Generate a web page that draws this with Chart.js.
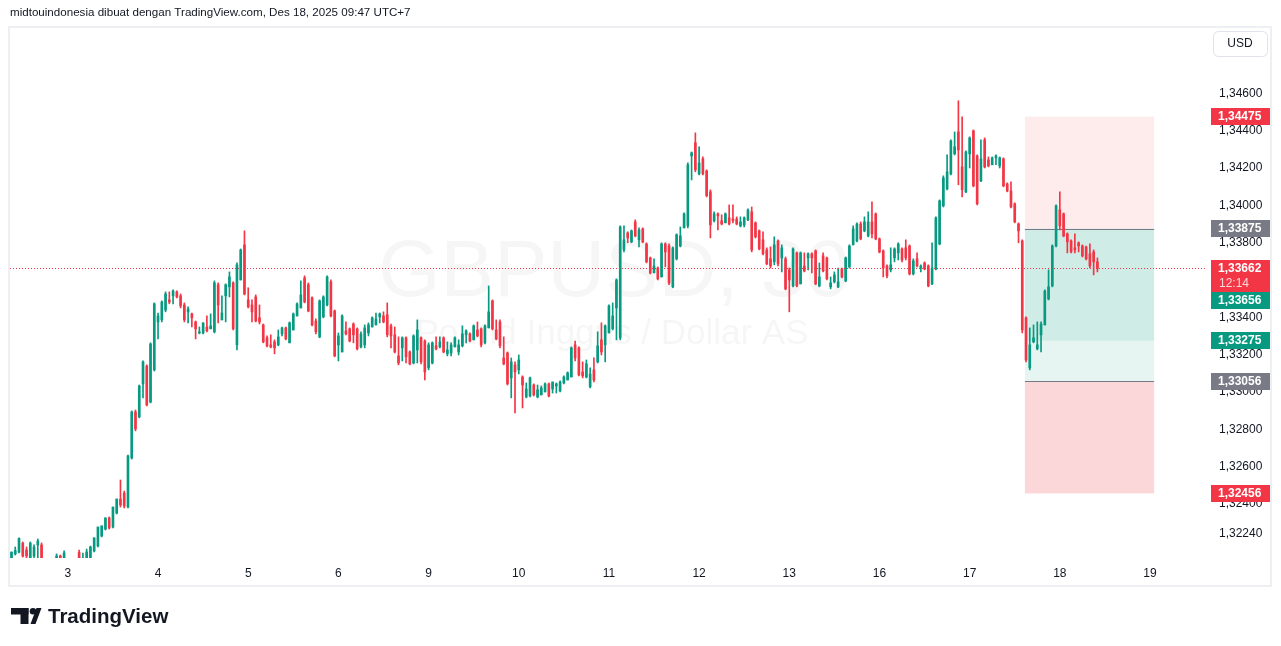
<!DOCTYPE html>
<html>
<head>
<meta charset="utf-8">
<script src="https://cdn.jsdelivr.net/npm/chart.js@4.4.1/dist/chart.umd.min.js"></script>
<style>
  html, body { margin: 0; padding: 0; background: #fff; }
  #wrap { width: 1281px; height: 646px; }
</style>
</head>
<body>
<div id="wrap"><canvas id="myCanvas" width="1281" height="646"></canvas></div>
<script>
// GBPUSD 30m, one candle per hour slot, slot 0 = Dec 3 00:00
const firstSlot = -15;

const open = [
  1.32099,1.32132,1.32142,1.32190,1.32153,1.32110,1.32121,1.32180,1.32180,1.32083,
  1.32046,1.32008,1.32056,1.32121,1.32067,1.32088,1.32035,1.31992,1.32140,1.32072,
  1.32088,1.32099,1.32148,1.32174,1.32228,1.32265,1.32325,1.32276,1.32351,1.32426,
  1.32458,1.32383,1.32646,1.32893,1.32866,1.33043,1.33139,1.32946,1.33118,1.33375,
  1.33386,1.33439,1.33493,1.33515,1.33536,1.33515,1.33466,1.33429,1.33418,1.33375,
  1.33316,1.33316,1.33348,1.33338,1.33322,1.33574,1.33386,1.33515,1.33563,1.33584,
  1.33252,1.33600,1.33788,1.33493,1.33466,1.33509,1.33397,1.33359,1.33290,1.33252,
  1.33268,1.33252,1.33311,1.33343,1.33263,1.33332,1.33407,1.33450,1.33611,1.33574,
  1.33504,1.33380,1.33295,1.33402,1.33466,1.33590,1.33434,1.33252,1.33214,1.33327,
  1.33338,1.33364,1.33338,1.33241,1.33252,1.33316,1.33348,1.33359,1.33402,1.33407,
  1.33413,1.33354,1.33306,1.33193,1.33236,1.33290,1.33214,1.33155,1.33225,1.33290,
  1.33273,1.33129,1.33155,1.33247,1.33241,1.33290,1.33204,1.33209,1.33241,1.33214,
  1.33247,1.33306,1.33311,1.33279,1.33332,1.33338,1.33263,1.33343,1.33488,1.33332,
  1.33375,1.33182,1.33209,1.33075,1.33145,1.33118,1.33080,1.32973,1.32978,1.33037,
  1.32973,1.32984,1.33000,1.33043,1.33016,1.33032,1.33005,1.33048,1.33064,1.33080,
  1.33252,1.33236,1.33107,1.33080,1.33027,1.33118,1.33161,1.33279,1.33252,1.33316,
  1.33338,1.33450,1.33290,1.33761,1.33852,1.33804,1.33911,1.33815,1.33874,1.33793,
  1.33718,1.33638,1.33664,1.33616,1.33793,1.33782,1.33563,1.33713,1.33782,1.33879,
  1.33890,1.34265,1.34335,1.34168,1.34249,1.34184,1.34072,1.33917,1.33954,1.33917,
  1.33906,1.33933,1.33927,1.33927,1.33890,1.33895,1.33922,1.33965,1.33906,1.33863,
  1.33815,1.33761,1.33713,1.33697,1.33809,1.33718,1.33713,1.33654,1.33568,1.33745,
  1.33579,1.33675,1.33718,1.33740,1.33756,1.33568,1.33729,1.33718,1.33563,1.33590,
  1.33563,1.33659,1.33595,1.33670,1.33788,1.33809,1.33900,1.33863,1.33836,1.33911,
  1.33954,1.33820,1.33756,1.33675,1.33654,1.33718,1.33745,1.33766,1.33772,1.33782,
  1.33632,1.33713,1.33664,1.33691,1.33675,1.33579,1.33659,1.33793,1.33997,1.34088,
  1.34168,1.34276,1.34393,1.34206,1.34072,1.34276,1.34399,1.34265,1.34131,1.34351,
  1.34243,1.34217,1.34254,1.34211,1.34249,1.34115,1.34077,1.34008,1.33900,1.33809,
  1.33397,1.33129,1.33268,1.33231,1.33306,1.33359,1.33498,1.33568,1.33782,1.33975,
  1.33954,1.33847,1.33809,1.33772,1.33799,1.33782,1.33777,1.33740,1.33750,1.33697
];
const high = [
  1.32142,1.32169,1.32218,1.32196,1.32169,1.32196,1.32180,1.32212,1.32191,1.32088,
  1.32072,1.32067,1.32132,1.32126,1.32148,1.32094,1.32072,1.32083,1.32153,1.32137,
  1.32158,1.32174,1.32218,1.32276,1.32282,1.32325,1.32330,1.32383,1.32426,1.32528,
  1.32469,1.32662,1.32898,1.32903,1.33037,1.33166,1.33145,1.33263,1.33477,1.33423,
  1.33488,1.33536,1.33536,1.33547,1.33541,1.33525,1.33477,1.33456,1.33423,1.33380,
  1.33348,1.33370,1.33407,1.33418,1.33595,1.33584,1.33515,1.33579,1.33643,1.33590,
  1.33691,1.33766,1.33863,1.33558,1.33493,1.33520,1.33466,1.33364,1.33300,1.33306,
  1.33279,1.33332,1.33348,1.33348,1.33375,1.33423,1.33477,1.33595,1.33622,1.33584,
  1.33509,1.33391,1.33493,1.33515,1.33622,1.33600,1.33439,1.33316,1.33413,1.33375,
  1.33343,1.33370,1.33343,1.33322,1.33359,1.33370,1.33402,1.33423,1.33423,1.33429,
  1.33477,1.33364,1.33348,1.33295,1.33295,1.33295,1.33220,1.33306,1.33386,1.33295,
  1.33279,1.33263,1.33268,1.33295,1.33295,1.33295,1.33268,1.33263,1.33295,1.33279,
  1.33354,1.33332,1.33316,1.33359,1.33375,1.33343,1.33359,1.33568,1.33493,1.33386,
  1.33386,1.33295,1.33214,1.33182,1.33161,1.33198,1.33086,1.33048,1.33080,1.33043,
  1.33037,1.33032,1.33048,1.33048,1.33053,1.33048,1.33059,1.33086,1.33107,1.33241,
  1.33273,1.33241,1.33161,1.33171,1.33129,1.33182,1.33322,1.33370,1.33359,1.33466,
  1.33477,1.33606,1.33890,1.33890,1.33858,1.33868,1.33922,1.33879,1.33879,1.33799,
  1.33723,1.33713,1.33670,1.33799,1.33799,1.33793,1.33777,1.33847,1.33884,1.33959,
  1.34227,1.34286,1.34388,1.34313,1.34259,1.34190,1.34083,1.33965,1.33959,1.33949,
  1.33959,1.34002,1.34002,1.33938,1.33938,1.33938,1.33981,1.33991,1.33911,1.33868,
  1.33858,1.33772,1.33777,1.33831,1.33815,1.33788,1.33723,1.33664,1.33772,1.33750,
  1.33750,1.33745,1.33745,1.33745,1.33761,1.33691,1.33745,1.33723,1.33616,1.33643,
  1.33664,1.33664,1.33723,1.33788,1.33890,1.33906,1.33911,1.33938,1.33965,1.34018,
  1.33959,1.33825,1.33761,1.33681,1.33772,1.33772,1.33799,1.33772,1.33815,1.33788,
  1.33713,1.33745,1.33681,1.33697,1.33681,1.33799,1.33938,1.34029,1.34158,1.34270,
  1.34351,1.34393,1.34560,1.34474,1.34292,1.34367,1.34404,1.34270,1.34351,1.34361,
  1.34259,1.34259,1.34270,1.34259,1.34254,1.34120,1.34126,1.34013,1.33906,1.33815,
  1.33402,1.33343,1.33359,1.33375,1.33375,1.33547,1.33654,1.33788,1.34002,1.34072,
  1.33959,1.33852,1.33815,1.33847,1.33804,1.33788,1.33782,1.33793,1.33761,1.33718
];
const low = [
  1.32088,1.32126,1.32137,1.32115,1.32105,1.32099,1.32099,1.32099,1.32072,1.32019,
  1.31981,1.31992,1.32035,1.32046,1.32046,1.32019,1.31965,1.31981,1.32056,1.32046,
  1.32067,1.32088,1.32142,1.32169,1.32223,1.32260,1.32265,1.32271,1.32346,1.32383,
  1.32378,1.32378,1.32640,1.32791,1.32861,1.32968,1.32925,1.32941,1.33112,1.33284,
  1.33375,1.33429,1.33472,1.33472,1.33504,1.33450,1.33375,1.33370,1.33348,1.33284,
  1.33311,1.33311,1.33322,1.33338,1.33316,1.33370,1.33386,1.33375,1.33509,1.33332,
  1.33225,1.33600,1.33520,1.33450,1.33375,1.33375,1.33364,1.33263,1.33241,1.33236,
  1.33204,1.33247,1.33300,1.33279,1.33263,1.33332,1.33407,1.33450,1.33477,1.33429,
  1.33354,1.33311,1.33290,1.33397,1.33461,1.33402,1.33188,1.33166,1.33214,1.33306,
  1.33268,1.33263,1.33225,1.33236,1.33236,1.33300,1.33348,1.33359,1.33370,1.33370,
  1.33295,1.33236,1.33209,1.33145,1.33166,1.33155,1.33145,1.33150,1.33155,1.33150,
  1.33064,1.33118,1.33150,1.33225,1.33236,1.33209,1.33193,1.33193,1.33241,1.33198,
  1.33241,1.33263,1.33268,1.33279,1.33295,1.33241,1.33257,1.33343,1.33332,1.33279,
  1.33236,1.33145,1.33037,1.32968,1.32887,1.33096,1.32914,1.32968,1.32973,1.32978,
  1.32968,1.32984,1.33000,1.32973,1.32994,1.32994,1.33000,1.33043,1.33064,1.33080,
  1.33166,1.33086,1.33075,1.33075,1.33021,1.33053,1.33155,1.33198,1.33161,1.33316,
  1.33332,1.33279,1.33279,1.33750,1.33799,1.33799,1.33831,1.33777,1.33799,1.33691,
  1.33632,1.33638,1.33600,1.33616,1.33670,1.33574,1.33558,1.33707,1.33777,1.33879,
  1.33879,1.34136,1.34179,1.34163,1.34163,1.34045,1.33825,1.33911,1.33868,1.33895,
  1.33906,1.33895,1.33906,1.33895,1.33884,1.33884,1.33917,1.33750,1.33825,1.33761,
  1.33734,1.33681,1.33664,1.33681,1.33675,1.33643,1.33547,1.33429,1.33563,1.33563,
  1.33579,1.33643,1.33654,1.33638,1.33574,1.33563,1.33643,1.33600,1.33552,1.33584,
  1.33558,1.33611,1.33590,1.33664,1.33788,1.33804,1.33815,1.33858,1.33831,1.33825,
  1.33815,1.33745,1.33616,1.33611,1.33643,1.33697,1.33707,1.33697,1.33707,1.33627,
  1.33627,1.33670,1.33643,1.33654,1.33563,1.33574,1.33654,1.33788,1.33991,1.34083,
  1.34163,1.34270,1.34110,1.34045,1.34067,1.34200,1.34099,1.34002,1.34126,1.34200,
  1.34206,1.34217,1.34217,1.34200,1.34099,1.34072,1.33986,1.33906,1.33799,1.33316,
  1.33161,1.33118,1.33263,1.33225,1.33214,1.33359,1.33493,1.33563,1.33777,1.33868,
  1.33831,1.33745,1.33745,1.33745,1.33750,1.33723,1.33707,1.33664,1.33627,1.33643
];
const close = [
  1.32142,1.32150,1.32215,1.32120,1.32121,1.32190,1.32169,1.32201,1.32088,1.32046,
  1.32003,1.32056,1.32121,1.32067,1.32137,1.32035,1.31992,1.32067,1.32088,1.32110,
  1.32142,1.32169,1.32218,1.32276,1.32282,1.32325,1.32271,1.32383,1.32426,1.32394,
  1.32389,1.32657,1.32893,1.32802,1.33032,1.33161,1.32930,1.33257,1.33472,1.33407,
  1.33482,1.33525,1.33482,1.33541,1.33509,1.33461,1.33386,1.33445,1.33397,1.33338,
  1.33322,1.33370,1.33327,1.33354,1.33584,1.33466,1.33423,1.33574,1.33616,1.33338,
  1.33681,1.33761,1.33525,1.33456,1.33429,1.33380,1.33375,1.33268,1.33247,1.33241,
  1.33236,1.33295,1.33343,1.33284,1.33370,1.33418,1.33472,1.33520,1.33482,1.33434,
  1.33359,1.33322,1.33488,1.33509,1.33616,1.33407,1.33193,1.33300,1.33407,1.33311,
  1.33273,1.33306,1.33231,1.33311,1.33343,1.33359,1.33397,1.33391,1.33418,1.33375,
  1.33306,1.33300,1.33214,1.33155,1.33290,1.33188,1.33150,1.33300,1.33332,1.33161,
  1.33107,1.33252,1.33263,1.33231,1.33268,1.33214,1.33225,1.33252,1.33290,1.33252,
  1.33311,1.33327,1.33273,1.33354,1.33300,1.33252,1.33354,1.33429,1.33338,1.33284,
  1.33247,1.33150,1.33043,1.33161,1.33107,1.33171,1.33037,1.33016,1.33075,1.32984,
  1.33011,1.33021,1.33043,1.32978,1.33053,1.33043,1.33053,1.33080,1.33102,1.33236,
  1.33182,1.33091,1.33086,1.33150,1.33096,1.33064,1.33247,1.33214,1.33354,1.33461,
  1.33407,1.33600,1.33884,1.33815,1.33825,1.33863,1.33836,1.33868,1.33804,1.33697,
  1.33638,1.33675,1.33606,1.33793,1.33750,1.33584,1.33772,1.33842,1.33836,1.33954,
  1.34217,1.34281,1.34190,1.34227,1.34168,1.34051,1.33895,1.33954,1.33943,1.33900,
  1.33954,1.33900,1.33917,1.33900,1.33911,1.33933,1.33975,1.33761,1.33831,1.33766,
  1.33740,1.33686,1.33675,1.33788,1.33686,1.33772,1.33552,1.33600,1.33766,1.33568,
  1.33745,1.33648,1.33740,1.33718,1.33579,1.33616,1.33648,1.33606,1.33584,1.33627,
  1.33590,1.33616,1.33718,1.33782,1.33874,1.33900,1.33820,1.33911,1.33911,1.33847,
  1.33820,1.33750,1.33664,1.33622,1.33681,1.33766,1.33793,1.33707,1.33718,1.33632,
  1.33702,1.33675,1.33675,1.33659,1.33568,1.33664,1.33933,1.34024,1.34147,1.34179,
  1.34345,1.34313,1.34297,1.34083,1.34286,1.34361,1.34104,1.34008,1.34249,1.34206,
  1.34211,1.34254,1.34265,1.34254,1.34104,1.34077,1.33991,1.33911,1.33863,1.33332,
  1.33171,1.33252,1.33290,1.33252,1.33364,1.33541,1.33563,1.33782,1.33997,1.33890,
  1.33836,1.33804,1.33750,1.33761,1.33782,1.33729,1.33713,1.33675,1.33697,1.33662
];

// time axis: day labels every 24 slots
const dayLabels = ['3', '4', '5', '6', '9', '10', '11', '12', '13', '16', '17', '18', '19'];
const priceTicks = [1.346, 1.344, 1.342, 1.340, 1.338, 1.336, 1.334, 1.332, 1.330, 1.328, 1.326, 1.324, 1.3224];

// position tool drawn on the chart
const positionFrom = 254.7;
const positionTo = 289.1;
const stopPrice = 1.34475;
const entryPrice = 1.33875;
const midPrice = 1.33275;
const targetPrice = 1.33056;
const lowerPrice = 1.32456;

const lastPrice = 1.33662;
const countdown = '12:14';

const priceLabels = [
  { value: 1.34475, color: '#f23645' },
  { value: 1.33875, color: '#787b86' },
  { value: 1.33662, color: '#f23645', sub: countdown },
  { value: 1.33656, color: '#089981' },
  { value: 1.33275, color: '#089981' },
  { value: 1.33056, color: '#787b86' },
  { value: 1.32456, color: '#f23645' },
];

const headerText = 'midtouindonesia dibuat dengan TradingView.com, Des 18, 2025 09:47 UTC+7';

const GREEN = '#089981';
const RED = '#f23645';
const FONT = '"Liberation Sans", Arial, sans-serif';

const xs = open.map((o, i) => firstSlot + i);
const colors = open.map((o, i) => (close[i] >= o ? GREEN : RED));
const fmt = (v) => v.toFixed(5).replace('.', ',');

const decor = {
  id: 'decor',
  beforeDraw(chart) {
    const ctx = chart.ctx;
    ctx.save();
    ctx.fillStyle = '#ffffff';
    ctx.fillRect(0, 0, chart.width, chart.height);

    ctx.fillStyle = '#131722';
    ctx.font = '11.6px ' + FONT;
    ctx.textBaseline = 'middle';
    ctx.textAlign = 'left';
    ctx.fillText(headerText, 10, 13);

    ctx.strokeStyle = '#eeeff2';
    ctx.lineWidth = 2;
    ctx.strokeRect(9, 27, 1262, 559);
    ctx.restore();
  },
  beforeDatasetsDraw(chart) {
    const { ctx, chartArea } = chart;
    const x = chart.scales.x;
    const y = chart.scales.y;
    ctx.save();
    ctx.beginPath();
    ctx.rect(chartArea.left, chartArea.top, chartArea.right - chartArea.left, chartArea.bottom - chartArea.top);
    ctx.clip();

    // watermark
    const cx = (chartArea.left + chartArea.right) / 2;
    ctx.fillStyle = 'rgba(19,23,34,0.04)';
    ctx.textAlign = 'center';
    ctx.textBaseline = 'alphabetic';
    ctx.font = '80px ' + FONT;
    ctx.fillText('GBPUSD, 30', cx + 6, 296);
    ctx.font = '35px ' + FONT;
    ctx.fillText('Pound Inggris / Dollar AS', cx + 4, 344);

    // position boxes
    const x1 = x.getPixelForValue(positionFrom);
    const x2 = x.getPixelForValue(positionTo);
    const band = (a, b, c) => {
      ctx.fillStyle = c;
      ctx.fillRect(x1, y.getPixelForValue(a), x2 - x1, y.getPixelForValue(b) - y.getPixelForValue(a));
    };
    band(stopPrice, entryPrice, 'rgba(242,54,69,0.1)');
    band(entryPrice, targetPrice, 'rgba(8,153,129,0.1)');
    band(entryPrice, midPrice, 'rgba(8,153,129,0.1)');
    band(targetPrice, lowerPrice, 'rgba(242,54,69,0.2)');
    ctx.strokeStyle = '#787b86';
    ctx.lineWidth = 1;
    [entryPrice, targetPrice].forEach((p) => {
      const py = Math.round(y.getPixelForValue(p)) + 0.5;
      ctx.beginPath();
      ctx.moveTo(x1, py);
      ctx.lineTo(x2, py);
      ctx.stroke();
    });
    ctx.restore();
  },
  afterDatasetsDraw(chart) {
    const { ctx, chartArea } = chart;
    const py = Math.round(chart.scales.y.getPixelForValue(lastPrice)) + 0.5;
    ctx.save();
    ctx.strokeStyle = RED;
    ctx.lineWidth = 1;
    ctx.setLineDash([1, 2]);
    ctx.beginPath();
    ctx.moveTo(chartArea.left, py);
    ctx.lineTo(chartArea.right, py);
    ctx.stroke();
    ctx.restore();
  },
  afterDraw(chart) {
    const ctx = chart.ctx;
    const y = chart.scales.y;
    ctx.save();

    // currency box
    ctx.fillStyle = '#ffffff';
    ctx.strokeStyle = '#e0e3eb';
    ctx.lineWidth = 1;
    ctx.beginPath();
    ctx.roundRect(1213.5, 31.5, 54, 25, 5);
    ctx.fill();
    ctx.stroke();
    ctx.fillStyle = '#131722';
    ctx.font = '12px ' + FONT;
    ctx.textAlign = 'center';
    ctx.textBaseline = 'middle';
    ctx.fillText('USD', 1240, 44);

    // price labels on the axis
    let lastBottom = -Infinity;
    ctx.textAlign = 'left';
    priceLabels.forEach((l) => {
      const h = l.sub ? 32 : 17;
      const top = Math.max(Math.round(y.getPixelForValue(l.value) - 8.5), lastBottom);
      ctx.fillStyle = l.color;
      ctx.fillRect(1211, top, 59, h);
      ctx.fillStyle = '#ffffff';
      ctx.font = 'bold 12px ' + FONT;
      ctx.fillText(fmt(l.value), 1218, top + 9);
      if (l.sub) {
        ctx.fillStyle = 'rgba(255,255,255,0.8)';
        ctx.font = '12px ' + FONT;
        ctx.fillText(l.sub, 1219, top + 24);
      }
      lastBottom = top + h;
    });

    // logo
    ctx.fillStyle = '#131722';
    ctx.fillRect(11, 608, 17.5, 6.5);
    ctx.fillRect(20.5, 608, 8, 16);
    ctx.beginPath();
    ctx.arc(33, 611.3, 3.3, 0, Math.PI * 2);
    ctx.fill();
    ctx.beginPath();
    ctx.moveTo(36.5, 608);
    ctx.lineTo(41.5, 608);
    ctx.lineTo(35.5, 624);
    ctx.lineTo(30.5, 624);
    ctx.closePath();
    ctx.fill();
    ctx.font = 'bold 20.5px ' + FONT;
    ctx.textBaseline = 'alphabetic';
    ctx.fillText('TradingView', 48, 623);
    ctx.restore();
  },
};

const ctx = document.getElementById('myCanvas').getContext('2d');
new Chart(ctx, {
  type: 'bar',
  data: {
    datasets: [
      {
        label: 'body',
        data: xs.map((x, i) => ({ x, y: [open[i], close[i]] })),
        backgroundColor: colors,
        barThickness: 2,
        minBarLength: 1,
        grouped: false,
        borderWidth: 0,
      },
      {
        label: 'wick',
        data: xs.map((x, i) => ({ x, y: [low[i], high[i]] })),
        backgroundColor: colors,
        barThickness: 1,
        grouped: false,
        borderWidth: 0,
      },
    ],
  },
  options: {
    responsive: false,
    animation: false,
    devicePixelRatio: 1,
    events: [],
    layout: { padding: { left: 10, top: 28, right: 11, bottom: 61 } },
    plugins: { legend: { display: false }, tooltip: { enabled: false } },
    scales: {
      x: {
        type: 'linear',
        min: -15.4,
        max: 302.9,
        offset: false,
        grid: { display: false, drawTicks: false, offset: false },
        border: { display: false },
        afterFit(s) { s.height = 27; },
        afterBuildTicks(s) { s.ticks = dayLabels.map((d, i) => ({ value: i * 24 })); },
        ticks: {
          color: '#131722',
          font: { family: FONT, size: 12 },
          padding: 8,
          maxRotation: 0,
          autoSkip: false,
          callback: (v) => dayLabels[Math.round(v / 24)],
        },
      },
      y: {
        position: 'right',
        min: 1.3211,
        max: 1.3495,
        grid: { display: false, drawTicks: false },
        border: { display: false },
        afterFit(s) { s.width = 64; },
        afterBuildTicks(s) { s.ticks = priceTicks.map((v) => ({ value: v })); },
        ticks: {
          color: '#131722',
          font: { family: FONT, size: 12 },
          padding: 13,
          callback: (v) => fmt(v),
        },
      },
    },
  },
  plugins: [decor],
});
</script>
</body>
</html>
